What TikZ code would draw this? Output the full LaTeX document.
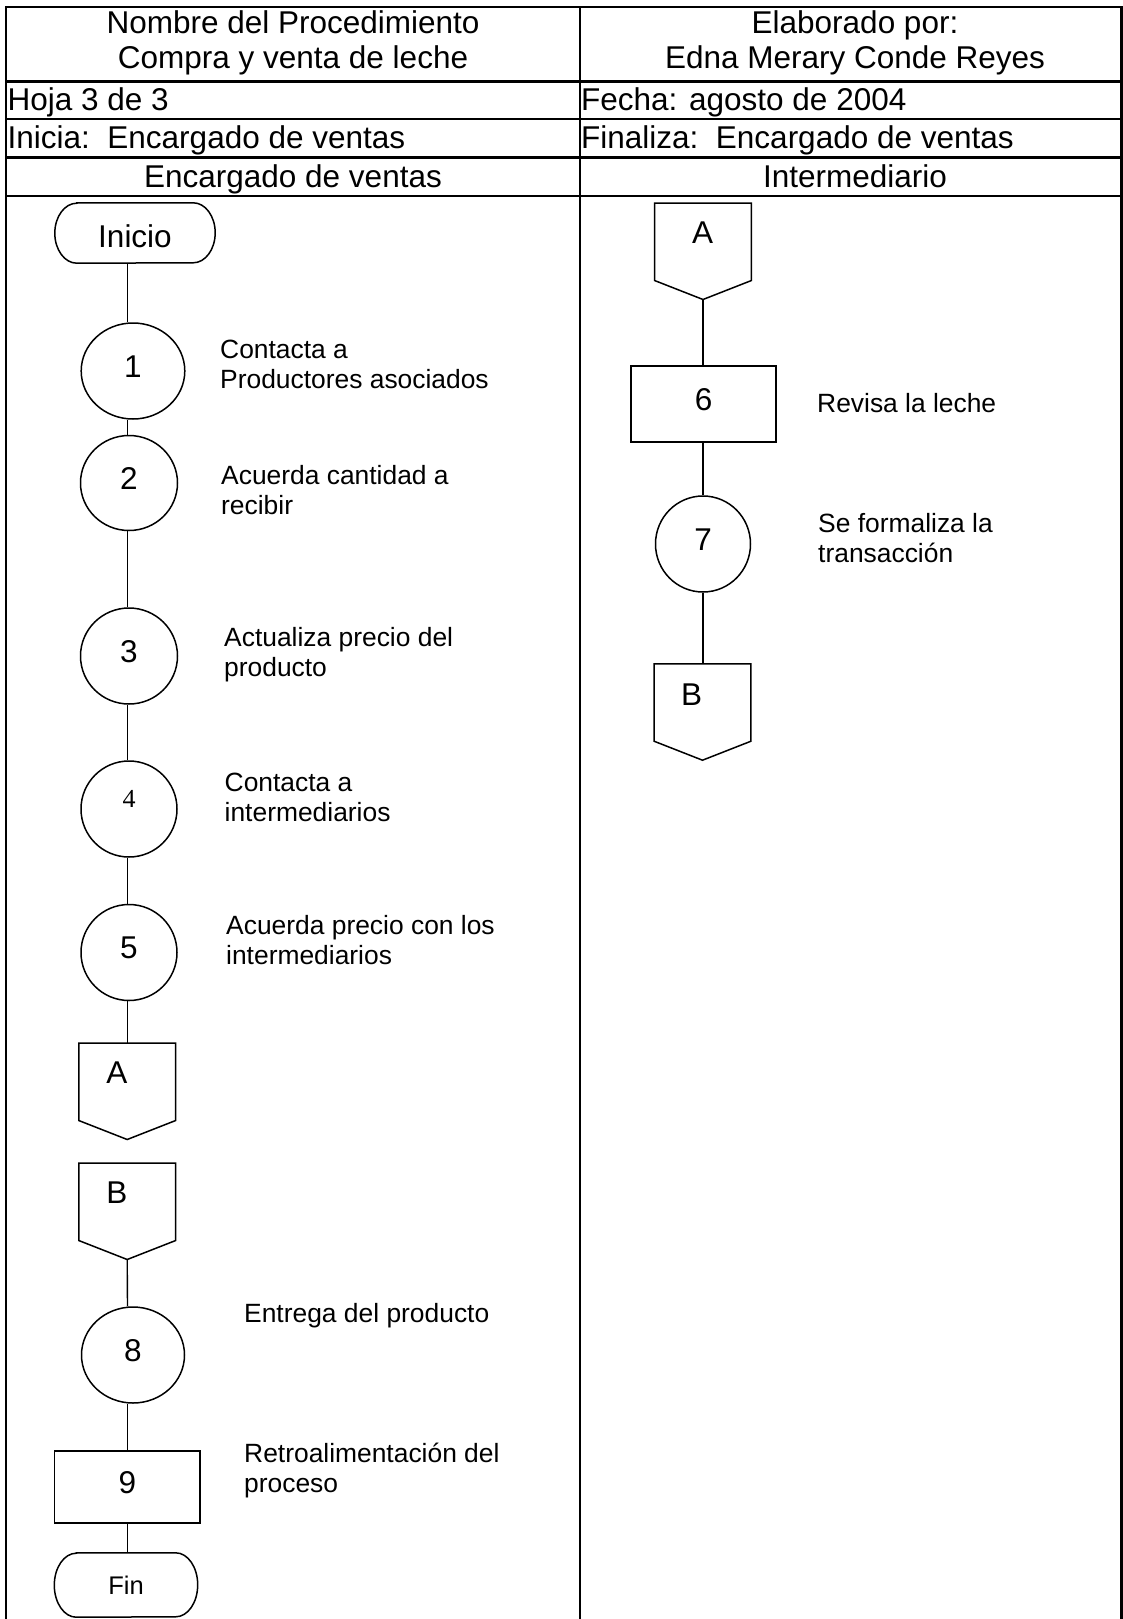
\documentclass[tikz,border=0pt]{standalone}
\usepackage{fontspec}
\setmainfont{Liberation Sans}
\newfontfamily\serifnum{Liberation Serif}
\usetikzlibrary{calc,shapes.geometric}

% terminal outline with elliptical ends around a named (undrawn) box
\newcommand\termoutline[2]{%
  \draw[shapeline] ([xshift=22pt]#1.north west) -- ([xshift=-22pt]#1.north east)
    arc[start angle=90,end angle=-90,x radius=22pt,y radius=#2]
    -- ([xshift=22pt]#1.south west)
    arc[start angle=270,end angle=90,x radius=22pt,y radius=#2] -- cycle;}

% off-page connector: name, centre x, top y; its lower point is <name>-tip
\newcommand\offpage[3]{%
  \node[connbox] (#1) at (#2,#3-38.5) {};
  \draw[shapeline] (#1.north west) -- (#1.north east) -- (#1.south east)
    -- ($(#1.south)+(0,-19)$) coordinate (#1-tip) -- (#1.south west) -- cycle;}

\begin{document}
\begin{tikzpicture}[x=1pt,y=1pt,
  frame/.style={line width=2.2pt},
  shapeline/.style={line width=1.5pt},
  link/.style={line width=1.4pt},
  hdr/.style={font=\fontsize{31.5}{36}\selectfont,inner sep=0pt},
  lbl/.style={font=\fontsize{26.4}{30}\selectfont,inner sep=0pt,anchor=north west,align=left},
  numtext/.style={font=\fontsize{31.5}{36}\selectfont,text height=22.6pt,text depth=10pt,inner sep=0pt},
  stepcirc/.style={ellipse,draw,shapeline,numtext},
  stepbox/.style={rectangle,draw,shapeline,numtext},
  termbox/.style={rectangle,inner sep=0pt},
  connbox/.style={rectangle,inner sep=0pt,minimum width=96.5pt,minimum height=77pt},
  conntext/.style={font=\fontsize{31.5}{36}\selectfont,text height=22.6pt,text depth=0pt,inner sep=0pt},
]
\useasboundingbox (0,0) rectangle (1123,-1619);

% table frame and header rows
\draw[frame] (6,-1619) -- (6,-6.7) -- (1121.5,-6.7) -- (1121.5,-1619);
\draw[frame] (580,-6.7) -- (580,-1619);
\foreach \yy in {81.5,119,157.5,196} \draw[frame] (6,-\yy) -- (1121.5,-\yy);

\node[hdr,anchor=base] (hName) at (293,-34) {Nombre del Procedimiento};
\node[hdr,anchor=base] (hProc) at (293,-69) {Compra y venta de leche};
\node[hdr,anchor=base] (hBy) at (855,-34) {Elaborado por:};
\node[hdr,anchor=base] (hAuthor) at (855,-69) {Edna Merary Conde Reyes};
\node[hdr,anchor=base west] (hSheet) at (7.5,-110) {Hoja 3 de 3};
\node[hdr,anchor=base west] (hDate) at (581,-110) {Fecha: agosto de 2004};
\node[hdr,anchor=base west] (hStart) at (7.5,-148) {Inicia:\ \ Encargado de ventas};
\node[hdr,anchor=base west] (hEnd) at (581,-148) {Finaliza:\ \ Encargado de ventas};
\node[hdr,anchor=base] (laneL) at (293,-187) {Encargado de ventas};
\node[hdr,anchor=base] (laneR) at (855,-187) {Intermediario};

\coordinate (axisL) at (127.5,0);
\coordinate (axisR) at (703,0);

% lane: Encargado de ventas
\node[termbox,minimum width=160pt,minimum height=60pt,font=\fontsize{31.5}{36}\selectfont,text height=28pt,text depth=0pt] (inicio) at (135,-233) {Inicio};
\termoutline{inicio}{30pt}
\node[stepcirc,minimum width=103.6pt,minimum height=96pt] (s1) at (133,-371) {1};
\node[stepcirc,minimum width=97pt,minimum height=95pt] (s2) at (129,-483) {2};
\node[stepcirc,minimum width=97pt,minimum height=96pt] (s3) at (129,-656) {3};
\node[stepcirc,minimum width=96pt,minimum height=96pt,font=\serifnum\fontsize{26}{30}\selectfont,text height=17.6pt,text depth=20pt] (s4) at (129,-809) {4};
\node[stepcirc,minimum width=96pt,minimum height=96pt] (s5) at (129,-952.5) {5};
\offpage{conA1}{127.2}{-1043.3}
\node[conntext] (conA1t) at (117,-1072) {A};
\offpage{conB1}{127.2}{-1163.3}
\node[conntext] (conB1t) at (117,-1192) {B};
\node[stepcirc,minimum width=103pt,minimum height=96pt] (s8) at (133,-1355) {8};
\node[stepbox,minimum width=145.4pt,minimum height=72pt] (s9) at (127.3,-1487) {9};
\node[termbox,minimum width=143pt,minimum height=64pt,font=\fontsize{25.5}{30}\selectfont] (fin) at (126,-1585) {Fin};
\termoutline{fin}{32pt}

\draw[link] (inicio.south -| axisL) -- (s1.north -| axisL);
\draw[link] (s1.south -| axisL) -- (s2.north -| axisL);
\draw[link] (s2.south -| axisL) -- (s3.north -| axisL);
\draw[link] (s3.south -| axisL) -- (s4.north -| axisL);
\draw[link] (s4.south -| axisL) -- (s5.north -| axisL);
\draw[link] (s5.south -| axisL) -- (conA1.north -| axisL);
\draw[link] (conB1-tip) -- (s8.north -| axisL);
\draw[link] (s8.south -| axisL) -- (s9.north -| axisL);
\draw[link] (s9.south -| axisL) -- (fin.north -| axisL);

\node[lbl] (t1) at (220,-337.5) {\strut Contacta a\\Productores asociados};
\node[lbl] (t2) at (221,-463.5) {\strut Acuerda cantidad a\\recibir};
\node[lbl] (t3) at (224,-625.5) {\strut Actualiza precio del\\producto};
\node[lbl] (t4) at (224.5,-770) {\strut Contacta a\\intermediarios};
\node[lbl] (t5) at (226,-913.5) {\strut Acuerda precio con los\\intermediarios};
\node[lbl] (t8) at (244,-1301.5) {\strut Entrega del producto};
\node[lbl] (t9) at (244,-1441.5) {\strut Retroalimentación del\\proceso};

% lane: Intermediario
\offpage{conA2}{703}{-203.3}
\node[conntext] (conA2t) at (702.5,-232) {A};
\node[stepbox,minimum width=145pt,minimum height=76pt] (s6) at (703.5,-404) {6};
\node[stepcirc,minimum width=95pt,minimum height=96pt] (s7) at (703,-544) {7};
\offpage{conB2}{702.5}{-664}
\node[conntext] (conB2t) at (691.6,-694) {B};

\draw[link] (conA2-tip) -- (s6.north -| axisR);
\draw[link] (s6.south -| axisR) -- (s7.north -| axisR);
\draw[link] (s7.south -| axisR) -- (conB2.north -| axisR);

\node[lbl] (t6) at (817,-391) {\strut Revisa la leche};
\node[lbl] (t7) at (818,-511.5) {\strut Se formaliza la\\transacción};
\end{tikzpicture}
\end{document}
